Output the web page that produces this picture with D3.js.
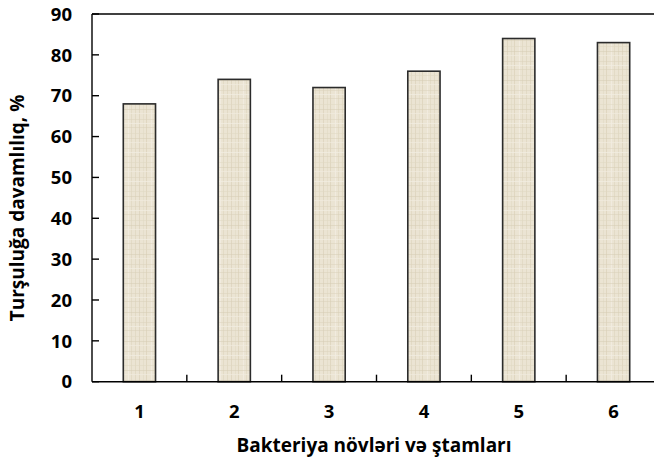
<!DOCTYPE html>
<html>
<head>
<meta charset="utf-8">
<script src="https://cdn.jsdelivr.net/npm/d3@7"></script>
<style>
  html, body { margin: 0; padding: 0; background: #fff; }
  svg { display: block; }
  text { font-family: "Open Sans", "DejaVu Sans", sans-serif; font-weight: bold; fill: #000; }
</style>
</head>
<body>
<svg id="chart" width="654" height="462"></svg>
<script>
// Strain numbers and their acid tolerance (%)
const categories = ["1", "2", "3", "4", "5", "6"];
const values = [68, 74, 72, 76, 84, 83];
const yTicks = [0, 10, 20, 30, 40, 50, 60, 70, 80, 90];
const xTitle = "Bakteriya növləri və ştamları";
const yTitle = "Turşuluğa davamlılıq, %";

const svg = d3.select("#chart");
const plotLeft = 92, plotTop = 14, plotBottom = 381.7, plotRight = 661;

const x = d3.scaleBand().domain(categories).range([plotLeft, plotRight]).padding(0);
const y = d3.scaleLinear().domain([0, 90]).range([plotBottom, plotTop]);

// Linen-like texture for the bars: soft, uneven threads on a beige ground
const defs = svg.append("defs");
const tileW = 23, tileH = 29;
const pat = defs.append("pattern")
  .attr("id", "linen").attr("patternUnits", "userSpaceOnUse")
  .attr("width", tileW).attr("height", tileH);
pat.append("rect").attr("width", tileW).attr("height", tileH).attr("fill", "#ebe4d3");
[[1, "#d9cfb8", 0.6], [5, "#e0d7c2", 0.5], [8, "#d6cbb2", 0.55], [13, "#f4efe4", 0.7],
 [16, "#dbd1ba", 0.5], [20, "#d8ceb5", 0.45]].forEach(([vx, c, o]) =>
  pat.append("rect").attr("x", vx).attr("y", 0).attr("width", 1).attr("height", tileH).attr("fill", c).attr("opacity", o));
[[3, "#dcd2bc", 0.5], [7, "#f3eee3", 0.7], [11, "#d8ceb6", 0.45], [17, "#e0d7c2", 0.5],
 [22, "#d6ccb3", 0.5], [26, "#f2ede1", 0.6]].forEach(([hy, c, o]) =>
  pat.append("rect").attr("x", 0).attr("y", hy).attr("width", tileW).attr("height", 1).attr("fill", c).attr("opacity", o));

// Bars
const bw = x.bandwidth() * 0.34;
svg.append("g").selectAll("rect").data(values).join("rect")
  .attr("x", (d, i) => x(categories[i]) + (x.bandwidth() - bw) / 2)
  .attr("y", d => y(d))
  .attr("width", bw)
  .attr("height", d => y(0) - y(d))
  .attr("fill", "url(#linen)")
  .attr("stroke", "#2b2b2b")
  .attr("stroke-width", 1.6);

// Frame: left axis, bottom axis, top line
const frame = svg.append("g").attr("stroke", "#000").attr("stroke-width", 1.4).attr("fill", "none");
frame.append("line").attr("x1", plotLeft).attr("x2", plotLeft).attr("y1", plotTop).attr("y2", plotBottom);
frame.append("line").attr("x1", plotLeft).attr("x2", plotRight).attr("y1", plotBottom).attr("y2", plotBottom);
frame.append("line").attr("x1", plotLeft).attr("x2", plotRight).attr("y1", plotTop).attr("y2", plotTop);

// Y ticks (inward) and labels
frame.selectAll(".yt").data(yTicks).join("line")
  .attr("x1", plotLeft).attr("x2", plotLeft + 7)
  .attr("y1", d => y(d)).attr("y2", d => y(d));
svg.append("g").selectAll("text").data(yTicks).join("text")
  .attr("x", 72).attr("y", d => y(d))
  .attr("dy", "0.36em")
  .attr("text-anchor", "end")
  .attr("font-size", 18.5)
  .text(d => d);

// X ticks at category boundaries (inward)
frame.selectAll(".xt").data(categories.slice(1)).join("line")
  .attr("x1", d => x(d)).attr("x2", d => x(d))
  .attr("y1", plotBottom).attr("y2", plotBottom - 7);
svg.append("g").selectAll("text").data(categories).join("text")
  .attr("x", d => x(d) + x.bandwidth() / 2)
  .attr("y", 418)
  .attr("text-anchor", "middle")
  .attr("font-size", 18.5)
  .text(d => d);

// Axis titles
svg.append("text")
  .attr("x", 374).attr("y", 452)
  .attr("text-anchor", "middle")
  .attr("font-size", 19)
  .text(xTitle);
svg.append("text")
  .attr("transform", "translate(24,208) rotate(-90)")
  .attr("text-anchor", "middle")
  .attr("font-size", 19)
  .text(yTitle);
</script>
</body>
</html>
